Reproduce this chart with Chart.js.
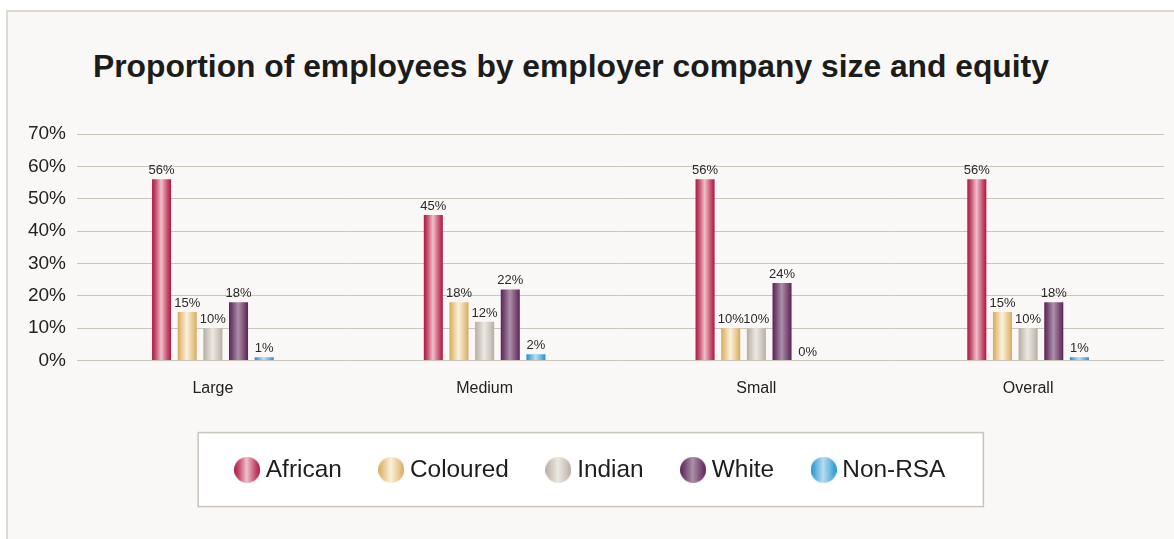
<!DOCTYPE html>
<html>
<head>
<meta charset="utf-8">
<script src="https://cdn.jsdelivr.net/npm/chart.js@4.4.1/dist/chart.umd.min.js"></script>
<style>
  html, body { margin: 0; padding: 0; background: #ffffff; overflow: hidden; }
  #frame {
    position: absolute; left: 6px; top: 10px; width: 1200px; height: 600px;
    background: #f9f8f6; border-left: 2px solid #ddd8d1; border-top: 2px solid #ddd8d1;
  }
  #title {
    position: absolute; left: 93px; top: 50px; margin: 0;
    font: bold 31.8px "Liberation Sans", Arial, sans-serif; line-height: 32px;
    color: #1c1c1c; white-space: nowrap;
  }
  #graf { position: absolute; left: 0; top: 0; }
</style>
</head>
<body>
<div id="frame"></div>
<h1 id="title">Proportion of employees by employer company size and equity</h1>
<canvas id="graf" width="1174" height="539"></canvas>
<script>
const categories = ['Large', 'Medium', 'Small', 'Overall'];
const seriesNames = ['African', 'Coloured', 'Indian', 'White', 'Non-RSA'];
const african  = [56, 45, 56, 56];
const coloured = [15, 18, 10, 15];
const indian   = [10, 12, 10, 10];
const white    = [18, 22, 24, 18];
const nonRsa   = [1, 2, 0, 1];
const yMax = 70;
const yStep = 10;

// dark edge / mid / highlight colours for the cylinder look
const shades = [
    ['#ab1744', '#c9506f', '#ecc1cb'],
    ['#d6aa5e', '#e8c88e', '#fbf1de'],
    ['#b5ada2', '#cdc7be', '#ece8e2'],
    ['#5a2455', '#7b4c77', '#ab90a9'],
    ['#1a93cb', '#5fb3df', '#b8dcf0']
];

const CAT_PCT = 0.472;
const BAR_PCT = 0.742;
const LEGEND_SHIFT = 11;

function addStops(g, s) {
    g.addColorStop(0, s[0]);
    g.addColorStop(0.2, s[1]);
    g.addColorStop(0.48, s[2]);
    g.addColorStop(0.8, s[1]);
    g.addColorStop(1, s[0]);
    return g;
}

function barFill(ctx) {
    const s = shades[ctx.datasetIndex];
    const chart = ctx.chart;
    const x = chart.scales && chart.scales.x;
    if (!x || ctx.type !== 'data' || !x.width) return s[1];
    const cat = x.width / categories.length;
    const group = cat * CAT_PCT;
    const slot = group / seriesNames.length;
    const cx = x.getPixelForValue(ctx.dataIndex) - group / 2 + slot * (ctx.datasetIndex + 0.5);
    const w = slot * BAR_PCT;
    if (!isFinite(cx) || !isFinite(w)) return s[1];
    return addStops(chart.ctx.createLinearGradient(cx - w / 2, 0, cx + w / 2, 0), s);
}

// round swatches for the legend
function swatch(s) {
    const c = document.createElement('canvas');
    c.width = 26; c.height = 26;
    const k = c.getContext('2d');
    k.fillStyle = addStops(k.createLinearGradient(0, 0, 26, 0), s);
    k.beginPath();
    k.arc(13, 13, 13, 0, Math.PI * 2);
    k.fill();
    return c;
}

const valueLabels = {
    id: 'valueLabels',
    afterDatasetsDraw(chart) {
        const c = chart.ctx;
        c.save();
        c.font = '13px "Liberation Sans", Arial, sans-serif';
        c.fillStyle = '#2a2a2a';
        c.textAlign = 'center';
        c.textBaseline = 'bottom';
        chart.data.datasets.forEach((ds, i) => {
            chart.getDatasetMeta(i).data.forEach((bar, j) => {
                c.fillText(ds.data[j] + '%', bar.x, bar.y - 2);
            });
        });
        c.restore();
    }
};

const legendBox = {
    id: 'legendBox',
    afterLayout(chart) {
        // nudge the legend row to the right
        if (chart.legend) {
            chart.legend.left += LEGEND_SHIFT;
            chart.legend.right += LEGEND_SHIFT;
        }
    },
    beforeDraw(chart) {
        const hb = chart.legend && chart.legend.legendHitBoxes;
        if (!hb || !hb.length) return;
        const first = hb[0], last = hb[hb.length - 1];
        const cy = first.top + 12;
        const left = first.left - 6.5 - 36;
        const right = last.left + last.width + 38;
        const c = chart.ctx;
        c.save();
        c.fillStyle = '#ffffff';
        c.strokeStyle = '#c9c4bc';
        c.lineWidth = 1.5;
        c.fillRect(left, cy - 37, right - left, 74);
        c.strokeRect(left, cy - 37, right - left, 74);
        c.restore();
    }
};

const seriesData = [african, coloured, indian, white, nonRsa];

document.addEventListener("DOMContentLoaded", ()=>{
    let cont = document.getElementById('graf').getContext('2d');
    let graf = new Chart(cont, {
        type: 'bar',
        data: {
            labels: categories,
            datasets: seriesNames.map((name, i) => ({
                label: name,
                data: seriesData[i],
                backgroundColor: barFill,
                borderWidth: 0,
                categoryPercentage: CAT_PCT,
                barPercentage: BAR_PCT,
                pointStyle: swatch(shades[i])
            }))
        },
        options: {
            responsive: false,
            animation: false,
            layout: { padding: { top: 134, left: 0, right: 10, bottom: 47 } },
            plugins: {
                title: { display: false },
                tooltip: { enabled: false },
                legend: {
                    position: 'bottom',
                    labels: {
                        usePointStyle: true,
                        boxWidth: 13,
                        padding: 43,
                        color: '#1e1e1e',
                        font: { family: '"Liberation Sans", Arial, sans-serif', size: 24.4 }
                    }
                }
            },
            scales: {
                x: {
                    grid: { display: false, drawTicks: false },
                    border: { display: false },
                    ticks: {
                        color: '#222222',
                        padding: 18,
                        font: { family: '"Liberation Sans", Arial, sans-serif', size: 16 }
                    },
                    afterFit(scale) { scale.height = 54; }
                },
                y: {
                    min: 0,
                    max: yMax,
                    grid: { color: '#cbc5bc', lineWidth: 1, drawTicks: false },
                    border: { display: false },
                    ticks: {
                        stepSize: yStep,
                        padding: 11,
                        color: '#222222',
                        font: { family: '"Liberation Sans", Arial, sans-serif', size: 19 },
                        callback: v => v + '%'
                    },
                    afterFit(scale) { scale.width = 77; }
                }
            }
        },
        plugins: [legendBox, valueLabels]
    });
})
</script>
</body>
</html>
